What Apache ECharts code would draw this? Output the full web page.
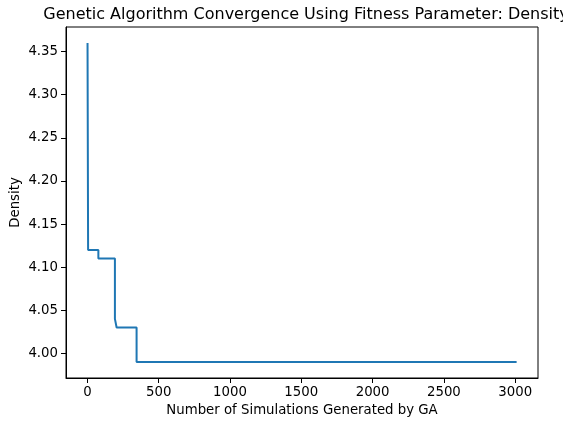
<!DOCTYPE html>
<html>
<head>
<meta charset="utf-8">
<script src="https://cdn.jsdelivr.net/npm/echarts@6/dist/echarts.min.js"></script>
<style>
  html, body { margin: 0; padding: 0; background: #fff; }
  #chart { width: 563px; height: 423px; }
</style>
</head>
<body>
<div id="chart"></div>
<script>
// simulations where best density changed, and the value from there on
const simIndex = [1, 5, 77, 193, 205, 345, 3010];
const density = [4.36, 4.12, 4.11, 4.04, 4.03, 3.99, 3.99];
const xTicks = [0, 500, 1000, 1500, 2000, 2500, 3000];
const yTicks = [4.00, 4.05, 4.10, 4.15, 4.20, 4.25, 4.30, 4.35];

const font = 'DejaVu Sans';
const chart = echarts.init(document.getElementById('chart'));

const axisCommon = {
  axisLine: { show: true, onZero: false, lineStyle: { color: '#000', width: 1 } },
  axisTick: { show: true, inside: false, length: 5, lineStyle: { color: '#000', width: 1 } },
  splitLine: { show: false },
  nameMoveOverlap: false,
  nameTextStyle: { fontFamily: font, fontSize: 13.3, color: '#000' }
};

chart.setOption({
  animation: false,
  title: {
    text: 'Genetic Algorithm Convergence Using Fitness Parameter: Density',
    left: 301, top: 2, textAlign: 'center',
    textStyle: { fontFamily: font, fontSize: 16, fontWeight: 'normal', color: '#000' }
  },
  grid: { left: 66, right: 25, top: 27, bottom: 45, containLabel: false,
    outerBoundsMode: 'none',
    show: true, borderColor: '#000', borderWidth: 1 },
  xAxis: Object.assign({}, axisCommon, {
    type: 'value', min: -150, max: 3160,
    name: 'Number of Simulations Generated by GA',
    nameLocation: 'middle', nameGap: 26,
    axisTick: Object.assign({}, axisCommon.axisTick, { customValues: xTicks }),
    axisLabel: { customValues: xTicks, margin: 8, fontFamily: font, fontSize: 13.3, color: '#000',
      formatter: v => String(v) }
  }),
  yAxis: Object.assign({}, axisCommon, {
    type: 'value', min: 3.9715, max: 4.3785,
    name: 'Density',
    nameLocation: 'middle', nameGap: 44, nameRotate: 90,
    axisTick: Object.assign({}, axisCommon.axisTick, { customValues: yTicks }),
    axisLabel: { customValues: yTicks, margin: 8, fontFamily: font, fontSize: 13.3, color: '#000',
      formatter: v => v.toFixed(2) }
  }),
  series: [{
    type: 'line',
    step: 'end',
    showSymbol: false,
    data: simIndex.map((x, i) => [x, density[i]]),
    lineStyle: { color: '#1f77b4', width: 2 }
  }]
});
</script>
</body>
</html>
